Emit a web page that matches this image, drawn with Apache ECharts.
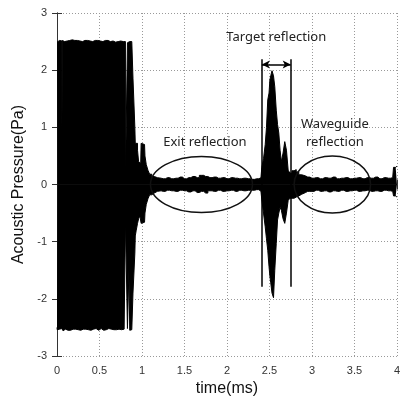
<!DOCTYPE html>
<html>
<head>
<meta charset="utf-8">
<script src="https://cdn.jsdelivr.net/npm/echarts@6/dist/echarts.min.js"></script>
<style>
html,body{margin:0;padding:0;background:#fff;}
#main{width:403px;height:403px;}
</style>
</head>
<body>
<div id="main"></div>
<script>
var times = [0.000,0.004,0.02,0.04,0.058,0.059,0.062,0.063,0.08,0.10,0.12,0.14,0.16,0.18,0.20,0.22,0.24,0.26,0.28,0.30,
  0.32,0.34,0.36,0.38,0.40,0.42,0.44,0.46,0.48,0.50,0.52,0.54,0.56,0.58,0.60,0.62,0.64,0.66,0.68,0.70,
  0.72,0.74,0.76,0.78,0.80,0.804,0.806,0.828,0.830,0.845,0.847,0.855,0.857,0.880,0.893,0.895,0.915,0.917,0.925,0.94,
  0.955,0.965,0.985,0.995,1.03,1.04,1.06,1.08,1.10,1.13,1.16,1.20,1.25,1.30,1.35,1.40,1.45,1.50,1.55,1.60,
  1.65,1.70,1.75,1.80,1.85,1.90,1.95,2.00,2.05,2.10,2.15,2.20,2.25,2.30,2.35,2.40,2.42,2.44,2.46,2.47,
  2.49,2.50,2.51,2.52,2.54,2.555,2.57,2.59,2.60,2.62,2.63,2.65,2.67,2.69,2.71,2.73,2.75,2.78,2.80,2.83,
  2.86,2.90,2.95,3.00,3.05,3.10,3.15,3.20,3.25,3.30,3.35,3.40,3.45,3.50,3.55,3.60,3.65,3.70,3.75,3.80,
  3.85,3.90,3.95,3.97,4.00];
var upper = [2.49,2.50,2.52,2.50,2.51,0.97,0.97,2.52,2.50,2.53,2.51,2.52,2.50,2.53,2.52,2.50,2.52,2.51,2.53,2.50,
  2.52,2.50,2.52,2.51,2.53,2.50,2.52,2.49,2.52,2.51,2.53,2.50,2.52,2.49,2.52,2.50,2.52,2.51,2.49,2.52,
  2.50,2.51,2.52,2.50,2.51,2.50,0.02,0.02,2.48,2.50,2.50,2.50,2.51,2.50,2.48,1.86,1.86,1.00,0.72,0.72,
  0.60,0.40,0.37,0.72,0.70,0.50,0.35,0.25,0.18,0.14,0.12,0.11,0.10,0.12,0.10,0.11,0.13,0.10,0.12,0.14,
  0.12,0.16,0.14,0.12,0.13,0.11,0.12,0.10,0.12,0.11,0.10,0.11,0.10,0.09,0.10,0.12,0.30,0.45,0.70,1.00,
  1.48,1.60,1.83,1.90,1.99,1.90,1.71,1.30,1.05,0.90,0.60,0.40,0.55,0.75,0.60,0.25,0.20,0.24,0.26,0.22,
  0.17,0.15,0.13,0.11,0.12,0.10,0.12,0.11,0.13,0.10,0.11,0.12,0.10,0.11,0.12,0.10,0.12,0.11,0.13,0.10,
  0.12,0.11,0.12,0.30,0.32];
var lower = [-2.50,-2.54,-2.53,-2.55,-2.52,-2.53,-2.54,-2.53,-2.56,-2.53,-2.55,-2.52,-2.55,-2.53,-2.56,-2.53,-2.54,-2.52,-2.55,-2.53,
  -2.56,-2.53,-2.54,-2.52,-2.55,-2.53,-2.54,-2.52,-2.55,-2.53,-2.52,-2.55,-2.53,-2.54,-2.52,-2.55,-2.53,-2.54,-2.52,-2.54,
  -2.53,-2.52,-2.54,-2.53,-2.53,-2.52,-0.60,-0.60,-2.52,-2.55,-1.50,-1.50,-2.55,-2.54,-2.52,-1.90,-1.90,-1.20,-0.90,-0.80,
  -0.68,-0.60,-0.55,-0.68,-0.66,-0.50,-0.35,-0.25,-0.18,-0.15,-0.12,-0.11,-0.12,-0.10,-0.11,-0.12,-0.10,-0.11,-0.13,-0.11,
  -0.14,-0.12,-0.15,-0.11,-0.12,-0.10,-0.12,-0.11,-0.10,-0.12,-0.10,-0.11,-0.10,-0.10,-0.09,-0.12,-0.27,-0.50,-0.74,-0.95,
  -1.15,-1.44,-1.60,-1.72,-1.90,-1.98,-1.50,-1.03,-0.62,-0.50,-0.40,-0.45,-0.60,-0.68,-0.50,-0.28,-0.24,-0.24,-0.22,-0.20,
  -0.17,-0.14,-0.12,-0.12,-0.10,-0.12,-0.11,-0.13,-0.11,-0.12,-0.10,-0.12,-0.11,-0.10,-0.12,-0.11,-0.10,-0.12,-0.11,-0.12,
  -0.10,-0.11,-0.12,-0.20,-0.22];

// annotations (data coordinates)
var gateLines = [2.41, 2.75];
var gateRange = [-1.79, 2.19];
var arrowY = 2.1;
var ellipses = [
  {c: [1.70, 0], r: [0.60, 0.49]},
  {c: [3.24, 0], r: [0.45, 0.50]}
];
var notes = [
  {text: 'Target reflection', at: [2.58, 2.57]},
  {text: 'Exit reflection', at: [1.74, 0.73]},
  {text: 'Waveguide', at: [3.27, 1.06]},
  {text: 'reflection', at: [3.27, 0.74]}
];

var upData = times.map(function (t, i) { return [t, upper[i]]; });
var loData = times.map(function (t, i) { return [t, lower[i]]; });

var myChart = echarts.init(document.getElementById('main'), null, {renderer: 'canvas'});

var tickStyle = {show: true, inside: true, length: 5, lineStyle: {color: '#333'}};
var gridLine = {show: true, lineStyle: {color: '#999', type: [1, 2], width: 1}};
var labelStyle = {color: '#333', fontSize: 11, fontFamily: 'Liberation Sans, Arial, sans-serif'};

var option = {
  animation: false,
  backgroundColor: '#fff',
  grid: {left: 57, right: 2, top: 13, bottom: 47},
  xAxis: [{
    type: 'value', min: 0, max: 4, interval: 0.5,
    name: 'time(ms)', nameLocation: 'middle', nameGap: 22,
    nameTextStyle: {color: '#111', fontSize: 16, fontFamily: 'Liberation Sans, Arial, sans-serif'},
    axisLine: {show: true, lineStyle: {color: '#333', width: 1}},
    axisTick: tickStyle,
    axisLabel: Object.assign({margin: 9}, labelStyle),
    splitLine: gridLine
  }, {
    type: 'value', min: 0, max: 4, interval: 0.5, position: 'top',
    axisLine: {show: true, lineStyle: {color: '#333', width: 1}},
    axisTick: tickStyle, axisLabel: {show: false}, splitLine: {show: false}
  }],
  yAxis: [{
    type: 'value', min: -3, max: 3, interval: 1,
    name: 'Acoustic Pressure(Pa)', nameLocation: 'middle', nameGap: 29,
    nameTextStyle: {color: '#111', fontSize: 16, fontFamily: 'Liberation Sans, Arial, sans-serif'},
    axisLine: {show: true, lineStyle: {color: '#333', width: 1}},
    axisTick: tickStyle,
    axisLabel: Object.assign({margin: 10}, labelStyle),
    splitLine: gridLine
  }, {
    type: 'value', min: -3, max: 3, interval: 1, position: 'right',
    axisLine: {show: true, lineStyle: {color: '#333', width: 1}},
    axisTick: tickStyle, axisLabel: {show: false}, splitLine: {show: false}
  }],
  series: [{
    type: 'line', name: 'upper', data: upData, showSymbol: false, symbol: 'none', step: 'middle',
    lineStyle: {color: '#000', width: 1}, areaStyle: {color: '#000', opacity: 1},
    markLine: {
      silent: true, animation: false,
      label: {show: false},
      data: [
        [{coord: [gateLines[0], gateRange[0]], symbol: 'none'}, {coord: [gateLines[0], gateRange[1]], symbol: 'none'}],
        [{coord: [gateLines[1], gateRange[0]], symbol: 'none'}, {coord: [gateLines[1], gateRange[1]], symbol: 'none'}],
        [{coord: [gateLines[0], arrowY], symbol: 'arrow', symbolSize: [6, 8]}, {coord: [gateLines[1], arrowY], symbol: 'arrow', symbolSize: [6, 8]}]
      ],
      lineStyle: {color: '#000', width: 1.5, type: 'solid'}
    }
  }, {
    type: 'line', name: 'lower', data: loData, showSymbol: false, symbol: 'none', step: 'middle',
    lineStyle: {color: '#000', width: 1}, areaStyle: {color: '#000', opacity: 1}
  }]
};
myChart.setOption(option);

// ellipses and notes placed through the axis scales
var graphics = [];
ellipses.forEach(function (e) {
  var c = myChart.convertToPixel({gridIndex: 0}, e.c);
  var p = myChart.convertToPixel({gridIndex: 0}, [e.c[0] + e.r[0], e.c[1] + e.r[1]]);
  graphics.push({
    type: 'ellipse', z: 10,
    shape: {cx: c[0], cy: c[1], rx: Math.abs(p[0] - c[0]), ry: Math.abs(c[1] - p[1])},
    style: {fill: null, stroke: '#111', lineWidth: 1.5}
  });
});
notes.forEach(function (n) {
  var p = myChart.convertToPixel({gridIndex: 0}, n.at);
  graphics.push({
    type: 'text', z: 10, x: p[0], y: p[1],
    style: {text: n.text, fill: '#222', fontSize: 13, fontFamily: 'Noto Sans, Open Sans, sans-serif',
      align: 'center', verticalAlign: 'middle'}
  });
});
myChart.setOption({graphic: graphics});
</script>
</body>
</html>
